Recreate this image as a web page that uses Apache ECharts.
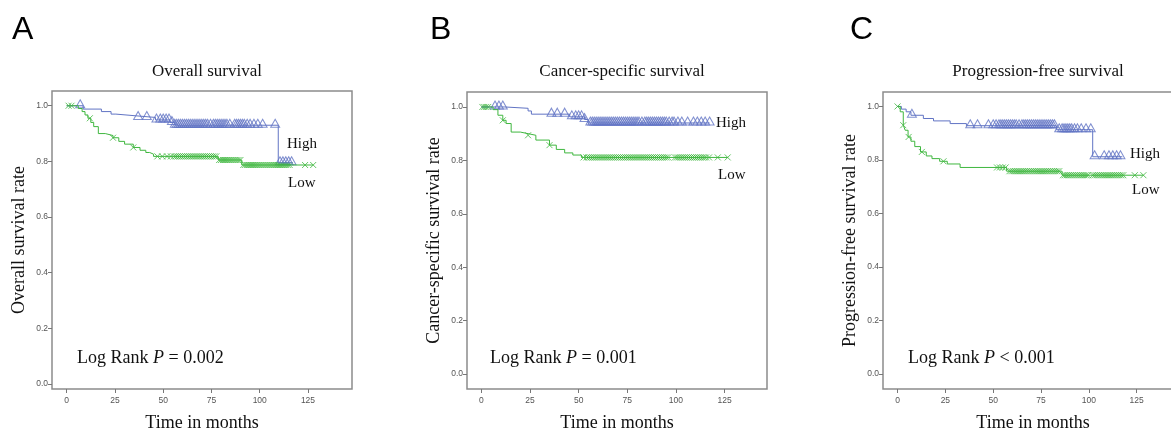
<!DOCTYPE html>
<html>
<head>
<meta charset="utf-8">
<script src="https://cdn.jsdelivr.net/npm/echarts@6/dist/echarts.min.js"></script>
<style>
  html, body { margin: 0; padding: 0; background: #fff; }
  #km { width: 1171px; height: 430px; }
</style>
</head>
<body>
<div id="km"></div>
<script>
// axis ticks and texts
var ticksX = [0, 25, 50, 75, 100, 125];
var ticksY = [0, 0.2, 0.4, 0.6, 0.8, 1.0];
var letters = ['A', 'B', 'C'];
var titles = ['Overall survival', 'Cancer-specific survival', 'Progression-free survival'];
var yNames = ['Overall survival rate', 'Cancer-specific survival rate', 'Progression-free survival rate'];
var pTexts = [' = 0.002', ' = 0.001', ' < 0.001'];

// survival steps: [month, survival after the drop]
var osHighSteps = [[0, 1.0], [8.5, 0.988], [18, 0.979], [23, 0.970], [25.5, 0.964], [35.5, 0.958], [46, 0.949], [53.5, 0.940], [56, 0.930], [109.6, 0.795], [117, 0.795]];
var osHighCensor = [7, 37, 41.5, 46.5, 48.5, 50, 51.5, 53, 54.5, 56, 57, 58, 59, 60, 61, 62, 63, 64, 65, 66, 67, 68, 69, 70, 71, 72, 73, 74.5, 76, 77, 78, 79, 80, 81, 82, 83, 84.5, 87, 88, 89, 90, 91, 92, 93.5, 95, 97, 99, 101.5, 108, 110.5, 112, 113.5, 115, 116.5];
var osLowSteps = [[0, 1.0], [6, 0.99], [8, 0.979], [9.5, 0.967], [11, 0.955], [12.5, 0.94], [14, 0.925], [16.4, 0.90], [20, 0.893], [24, 0.885], [27, 0.872], [30, 0.862], [34.5, 0.85], [38, 0.84], [41, 0.832], [43, 0.826], [45, 0.818], [78.5, 0.805], [90.7, 0.787], [127.7, 0.787]];
var osLowCensor = [1, 2.5, 12, 24, 34.5, 47, 49.5, 52, 54, 55.5, 56.5, 57.5, 58.5, 59.5, 60.5, 61.5, 62.5, 63.5, 64.5, 65.5, 66.5, 67.5, 68.5, 69.5, 70.5, 71.5, 72.5, 73.5, 74.5, 75.5, 76.5, 77.5, 79, 80, 81, 82, 83, 84, 85, 86, 87, 88, 89, 90, 91.5, 92.5, 93.5, 94.5, 95.5, 96.5, 97.5, 98.5, 99.5, 100.5, 101.5, 102.5, 103.5, 104.5, 105.5, 106.5, 107.5, 108.5, 109.5, 110.5, 111.5, 112.5, 113.5, 114.5, 115.5, 123.5, 127.7];

var csHighSteps = [[0, 1.0], [12, 0.995], [24, 0.985], [25.7, 0.973], [45.4, 0.963], [53, 0.953], [54.8, 0.940], [117.3, 0.940]];
var csHighCensor = [7, 9, 11, 36, 39, 42.8, 46.5, 48.5, 50, 51.5, 53, 56, 57, 58, 59, 60, 61, 62, 63, 64, 65, 66, 67, 68, 69, 70, 71, 72, 73, 74, 75, 76, 77, 78, 79, 80, 81, 82.5, 84, 85, 86, 87, 88, 89, 90, 91, 92, 93, 94, 95, 96.5, 98, 99, 101, 103, 106, 109, 111, 113, 115, 117.3];
var csLowSteps = [[0, 1.0], [6, 0.99], [8.5, 0.969], [11, 0.95], [12.7, 0.938], [15.3, 0.906], [20, 0.9], [24, 0.894], [28, 0.876], [35, 0.857], [38.5, 0.841], [42.8, 0.828], [47, 0.82], [51.4, 0.811], [126.6, 0.811]];
var csLowCensor = [0.5, 1.5, 2.5, 3.5, 11, 24, 35, 52.5, 54, 55, 56, 57, 58, 59, 60, 61, 62, 63, 64, 65, 66, 67, 68, 69, 70, 71, 72, 73, 74, 75, 76, 77, 78, 79, 80, 81, 82, 83, 84, 85, 86, 87, 88, 89, 90, 91, 92, 93, 94, 95, 96, 99.5, 100.5, 101.5, 102.5, 103.5, 104.5, 105.5, 106.5, 107.5, 108.5, 109.5, 110.5, 111.5, 112.5, 113.5, 114.5, 115.5, 117, 121.5, 126.6];

var pfsHighSteps = [[0, 1.0], [2, 0.99], [4.5, 0.98], [7, 0.967], [13.5, 0.955], [18.8, 0.946], [27.5, 0.936], [36, 0.928], [83, 0.913], [102, 0.812], [117.5, 0.812]];
var pfsHighCensor = [7.5, 38, 41.8, 47.5, 50, 51.5, 53, 54, 55, 56, 57, 58, 59, 60, 61, 62, 63.5, 65, 66, 67, 68, 69, 70, 71, 72, 73, 74, 75, 76, 77, 78, 79, 80, 81, 82, 84.5, 86, 87, 88, 89, 90, 91, 92.5, 94, 96, 98.5, 101, 103, 108, 110.5, 112.5, 114.5, 116.5];
var pfsLowSteps = [[0, 1.0], [1.4, 0.98], [3, 0.93], [4, 0.911], [5.5, 0.886], [7, 0.87], [9, 0.85], [12, 0.83], [15, 0.815], [18, 0.805], [22, 0.795], [26, 0.785], [32.7, 0.772], [57, 0.758], [86, 0.743], [128.5, 0.743]];
var pfsLowCensor = [0, 3, 5.8, 12.7, 24, 52, 53.5, 55, 56.5, 58.5, 59.5, 60.5, 61.5, 62.5, 63.5, 64.5, 65.5, 66.5, 67.5, 68.5, 69.5, 70.5, 71.5, 72.5, 73.5, 74.5, 75.5, 76.5, 77.5, 78.5, 79.5, 80.5, 81.5, 82.5, 83.5, 84.5, 86.5, 87.5, 88.5, 89.5, 90.5, 91.5, 92.5, 93.5, 94.5, 95.5, 96.5, 97.5, 98.5, 99.5, 102, 103, 104, 105, 106, 107, 108, 109, 110, 111, 112, 113, 114, 115, 116, 117, 118, 124, 128.5];

var panels = [
  { high: osHighSteps, highC: osHighCensor, low: osLowSteps, lowC: osLowCensor },
  { high: csHighSteps, highC: csHighCensor, low: csLowSteps, lowC: csLowCensor },
  { high: pfsHighSteps, highC: pfsHighCensor, low: pfsLowSteps, lowC: pfsLowCensor }
];

// layout per panel (pixels) and axis extents
var boxes = [
  { left: 52, top: 91, width: 300, height: 298, xmin: -7.6, xmax: 147.8, ymin: -0.018, ymax: 1.053 },
  { left: 467, top: 92, width: 300, height: 297, xmin: -7.4, xmax: 146.8, ymin: -0.056, ymax: 1.056 },
  { left: 883, top: 92, width: 300, height: 297, xmin: -7.6, xmax: 149.2, ymin: -0.056, ymax: 1.054 }
];
var labelPos = [
  { letter: [12, 30], logrank: [77, 358], high: [287, 144], low: [288, 183] },
  { letter: [430, 30], logrank: [490, 358], high: [716, 123], low: [718, 175] },
  { letter: [850, 30], logrank: [908, 358], high: [1130, 154], low: [1132, 190] }
];

var BLUE = '#6174c4';
var GREEN = '#3fb73f';
var SERIF = '"Liberation Serif", "Times New Roman", serif';
var SANS = '"Liberation Sans", Arial, sans-serif';

function survAt(steps, t) {
  var s = steps[0][1];
  for (var i = 0; i < steps.length; i++) {
    if (steps[i][0] <= t) s = steps[i][1];
  }
  return s;
}

var dom = document.getElementById('km');
var myChart = echarts.init(dom, null, { renderer: 'canvas' });

var grid = [], xAxis = [], yAxis = [], series = [], title = [], graphic = [];

boxes.forEach(function (b, i) {
  grid.push({
    left: b.left, top: b.top, width: b.width, height: b.height,
    show: true, borderColor: '#8c8c8c', borderWidth: 1.5,
    containLabel: false, outerBoundsMode: 'none'
  });
  xAxis.push({
    gridIndex: i, type: 'value', min: b.xmin, max: b.xmax, position: 'bottom',
    axisLine: { show: false, onZero: false },
    splitLine: { show: false },
    axisTick: { show: true, length: 4, customValues: ticksX, lineStyle: { color: '#777' } },
    axisLabel: { customValues: ticksX, fontSize: 8.5, color: '#555', fontFamily: SANS, margin: 7 },
    name: 'Time in months', nameLocation: 'middle', nameGap: 25,
    nameTextStyle: { fontFamily: SERIF, fontSize: 18, color: '#111' }
  });
  yAxis.push({
    gridIndex: i, type: 'value', min: b.ymin, max: b.ymax, position: 'left',
    axisLine: { show: false, onZero: false },
    splitLine: { show: false },
    axisTick: { show: true, length: 4, customValues: ticksY, lineStyle: { color: '#777' } },
    axisLabel: {
      customValues: ticksY, fontSize: 8.5, color: '#555', fontFamily: SANS, margin: 4,
      formatter: function (v) { return v.toFixed(1); }
    },
    name: yNames[i], nameLocation: 'middle', nameGap: 24,
    nameTextStyle: { fontFamily: SERIF, fontSize: 18, color: '#111' }
  });
  title.push({
    text: titles[i], left: b.left + b.width / 2, top: 58, textAlign: 'center',
    textStyle: { fontFamily: SERIF, fontSize: 17, fontWeight: 'normal', color: '#111' }
  });

  var p = panels[i];
  series.push({
    type: 'line', step: 'end', xAxisIndex: i, yAxisIndex: i, data: p.high,
    showSymbol: false, lineStyle: { color: BLUE, width: 1 }, silent: true
  });
  series.push({
    type: 'line', step: 'end', xAxisIndex: i, yAxisIndex: i, data: p.low,
    showSymbol: false, lineStyle: { color: GREEN, width: 1 }, silent: true
  });
  series.push({
    type: 'scatter', xAxisIndex: i, yAxisIndex: i,
    data: p.highC.map(function (t) { return [t, survAt(p.high, t)]; }),
    symbol: 'triangle', symbolSize: [9, 8], symbolOffset: [0, -2],
    itemStyle: { color: 'rgba(255,255,255,0)', borderColor: BLUE, borderWidth: 1 }, silent: true
  });
  series.push({
    type: 'scatter', xAxisIndex: i, yAxisIndex: i,
    data: p.lowC.map(function (t) { return [t, survAt(p.low, t)]; }),
    symbol: 'path://M0,0L10,10M10,0L0,10', symbolSize: 6,
    itemStyle: { color: 'none', borderColor: GREEN, borderWidth: 1 }, silent: true
  });

  var lp = labelPos[i];
  graphic.push({
    type: 'text', x: lp.letter[0], y: lp.letter[1],
    style: { text: letters[i], font: '32px ' + SANS, fill: '#000', verticalAlign: 'middle' }
  });
  graphic.push({
    type: 'text', x: lp.logrank[0], y: lp.logrank[1],
    style: {
      text: '{n|Log Rank }{i|P}{n|' + pTexts[i] + '}', verticalAlign: 'middle',
      rich: {
        n: { fontFamily: SERIF, fontSize: 18, fill: '#111' },
        i: { fontFamily: SERIF, fontSize: 18, fontStyle: 'italic', fill: '#111' }
      }
    }
  });
  graphic.push({
    type: 'text', x: lp.high[0], y: lp.high[1],
    style: { text: 'High', font: '15px ' + SERIF, fill: '#111', verticalAlign: 'middle' }
  });
  graphic.push({
    type: 'text', x: lp.low[0], y: lp.low[1],
    style: { text: 'Low', font: '15px ' + SERIF, fill: '#111', verticalAlign: 'middle' }
  });
});

var option = {
  animation: false,
  backgroundColor: '#fff',
  title: title,
  grid: grid,
  xAxis: xAxis,
  yAxis: yAxis,
  series: series,
  graphic: graphic
};

myChart.setOption(option);
window.addEventListener('resize', myChart.resize);
</script>
</body>
</html>
